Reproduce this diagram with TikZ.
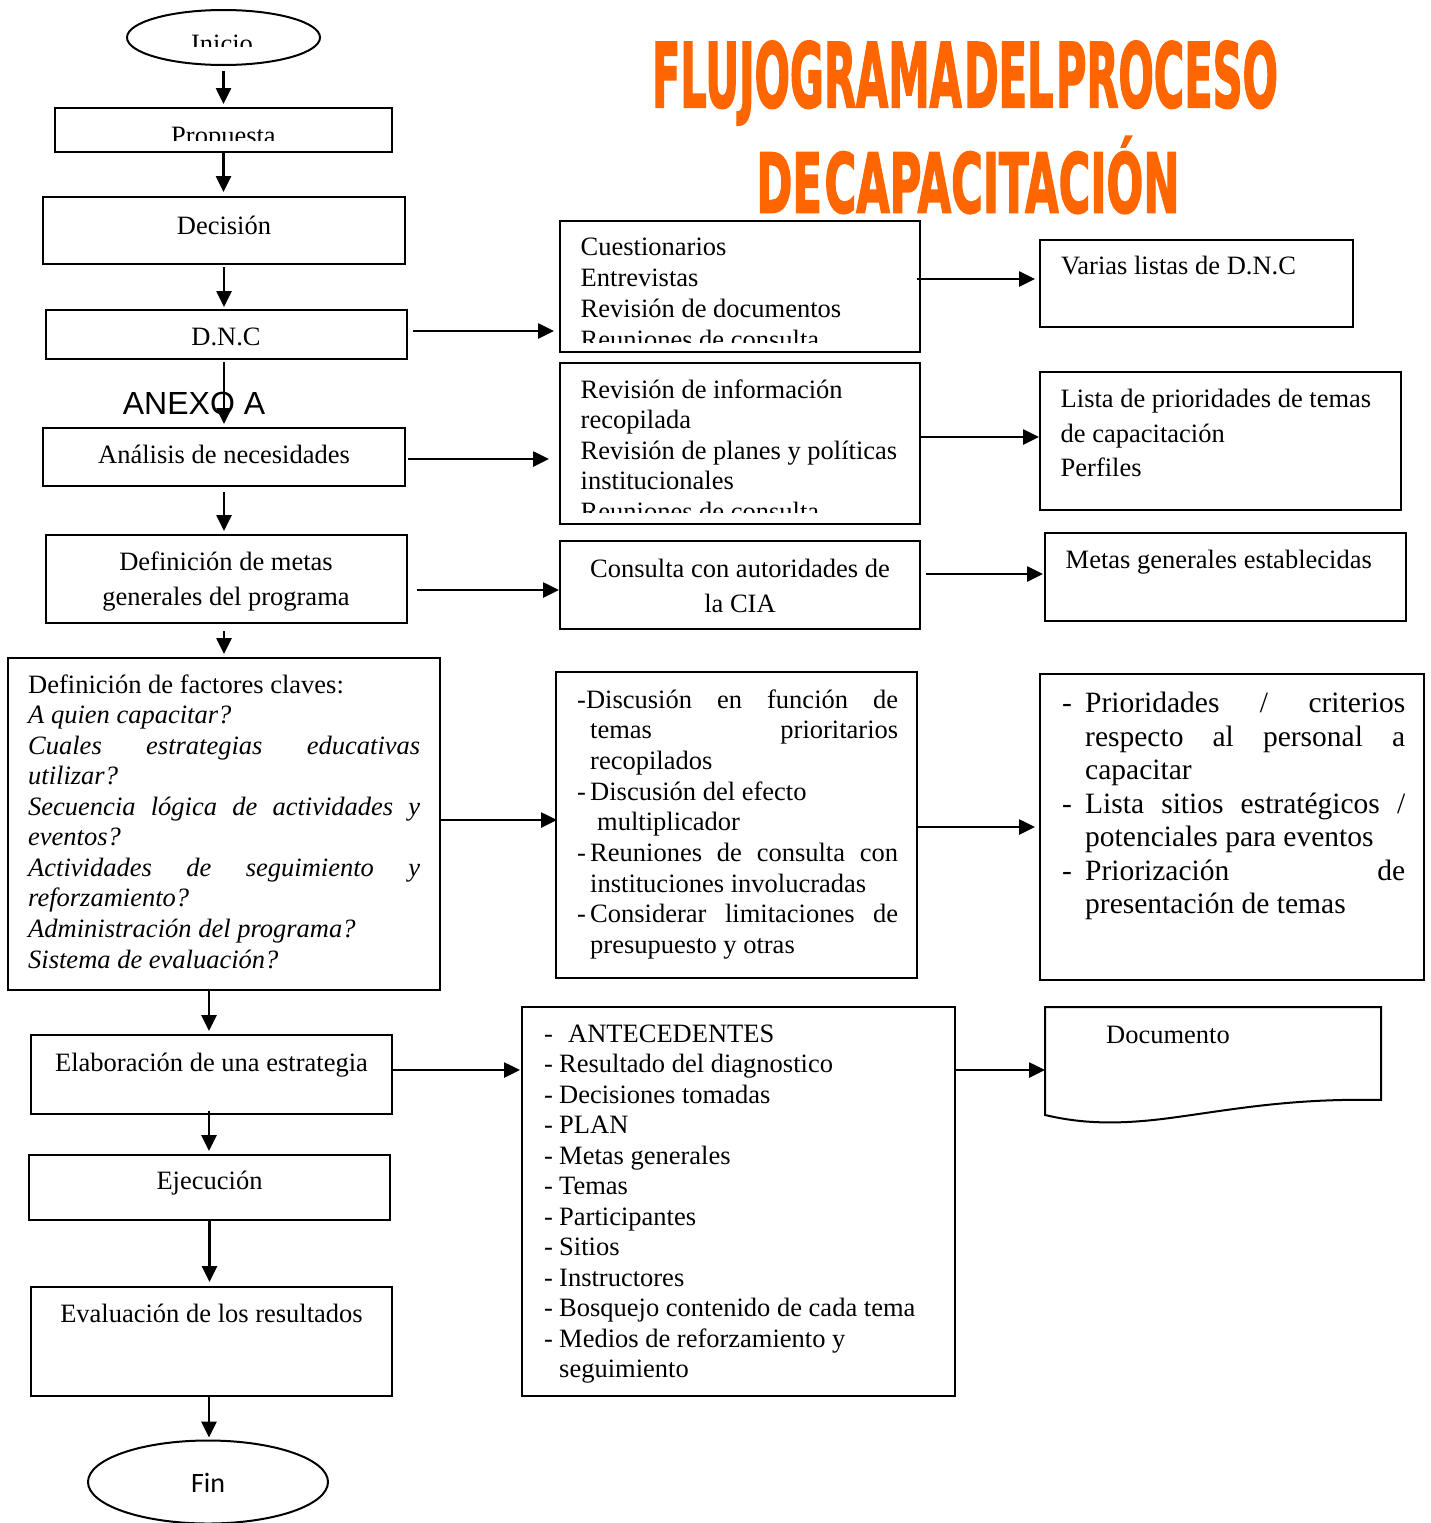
\documentclass[tikz,border=0pt]{standalone}
\usepackage{fontspec}
\usepackage{graphicx}
\setmainfont{Liberation Serif}
\newfontfamily\anexofont{Liberation Sans}
\newfontfamily\finfont{Carlito}
\newfontfamily\ttlfont{DejaVu Sans}[BoldFeatures={FakeBold=2.5}]
\usetikzlibrary{arrows.meta,shapes.geometric,calc}
\newcommand\fsN{\fontsize{26.5}{30.7}\selectfont}
\newcommand\fsP{\fontsize{29.5}{33.5}\selectfont}
\definecolor{wordorange}{RGB}{255,102,0}
\begin{document}
\begin{tikzpicture}[x=1pt,y=-1pt,
  box/.style={draw, line width=2pt, rectangle, inner sep=0pt},
  oval/.style={draw, line width=2pt, ellipse, inner sep=0pt},
  arr/.style={-{Triangle[length=16pt,width=15pt]}, line width=2.6pt},
  tl/.style={inner sep=0pt, font=\fsN, anchor=base west},
  tc/.style={inner sep=0pt, font=\fsN, anchor=base},
  tp/.style={inner sep=0pt, font=\fsP, anchor=base west},
  ttl/.style={inner sep=0pt, font=\ttlfont\bfseries},
  ]
\useasboundingbox (0,0) rectangle (1430,1523);

% ---------- title ----------
\node[ttl, text=wordorange] (t1) at (965,83)
  {\resizebox{626pt}{66pt}{{\spaceskip=0.06em FLUJOGRAMA DEL PROCESO}}};
\node[ttl, text=wordorange] (t2) at (968,175)
  {\resizebox{423pt}{76pt}{{\spaceskip=0.06em DE CAPACITACIÓN}}};

% ---------- left column ----------
\node[oval, minimum width=193pt, minimum height=55pt] (inicio) at (223.5,37.5) {};
\begin{scope}
  \clip (100,0) rectangle (350,46);
  \node[tc] (tinicio) at (222,52) {Inicio};
\end{scope}

\node[box, minimum width=337pt, minimum height=44pt] (prop) at (223.5,130) {};
\begin{scope}
  \clip (50,100) rectangle (400,140);
  \node[tc] (tprop) at (223.5,144.5) {Propuesta};
\end{scope}

\node[box, minimum width=362pt, minimum height=67pt] (dec) at (224,230.5) {};
\node[tc] (tdec) at (224,234) {Decisión};

\node[box, minimum width=361pt, minimum height=49pt] (dnc) at (226.5,334.5) {};
\node[tc] (tdnc) at (226,345) {D.N.C};

\node[box, minimum width=362pt, minimum height=58pt] (anal) at (224,457) {};
\node[tc] (tanal) at (224,463.5) {Análisis de necesidades};

\node[box, minimum width=361pt, minimum height=88pt] (metas) at (226.5,579) {};
\node[tc] (tmetas1) at (226,570) {Definición de metas};
\node[tc] (tmetas2) at (226,605) {generales del programa};

\node[box, minimum width=432pt, minimum height=332pt] (fact) at (224,824) {};
\node[tl] (tf1) at (28,693) {Definición de factores claves:};
\node[tl] (tf2) at (28,723.5) {\itshape A quien capacitar?};
\node[tl] (tf3) at (28,754) {\makebox[392pt][s]{\itshape Cuales estrategias educativas}};
\node[tl] (tf4) at (28,784.5) {\itshape utilizar?};
\node[tl] (tf5) at (28,815) {\makebox[392pt][s]{\itshape Secuencia lógica de actividades y}};
\node[tl] (tf6) at (28,845.5) {\itshape eventos?};
\node[tl] (tf7) at (28,876) {\makebox[392pt][s]{\itshape Actividades de seguimiento y}};
\node[tl] (tf8) at (28,906.5) {\itshape reforzamiento?};
\node[tl] (tf9) at (28,937) {\itshape Administración del programa?};
\node[tl] (tf10) at (28,968) {\itshape Sistema de evaluación?};

\node[box, minimum width=361pt, minimum height=79pt] (elab) at (211.5,1074.5) {};
\node[tc] (telab) at (211.5,1071) {Elaboración de una estrategia};

\node[box, minimum width=361pt, minimum height=65pt] (ejec) at (209.5,1187.5) {};
\node[tc] (tejec) at (209.5,1189) {Ejecución};

\node[box, minimum width=361pt, minimum height=109pt] (eval) at (211.5,1341.5) {};
\node[tc] (teval) at (211.5,1322) {Evaluación de los resultados};

\node[oval, minimum width=240pt, minimum height=83pt] (fin) at (208,1482) {};
\node[inner sep=0pt, anchor=base, font=\finfont\fontsize{28}{32}\selectfont] (tfin) at (208,1492) {Fin};

\node[inner sep=0pt, anchor=base, font=\anexofont\fontsize{32}{36}\selectfont] (anexo) at (194,414) {ANEXO A};

% ---------- middle column ----------
\node[box, minimum width=360pt, minimum height=131pt] (cuest) at (740,286.5) {};
\node[tl] (tc1) at (580.5,255) {Cuestionarios};
\node[tl] (tc2) at (580.5,286) {Entrevistas};
\node[tl] (tc3) at (580.5,317) {Revisión de documentos};
\begin{scope}
  \clip (570,300) rectangle (915,342);
  \node[tl] (tc4) at (580.5,348) {Reuniones de consulta};
\end{scope}

\node[box, minimum width=360pt, minimum height=161pt] (revis) at (740,443.5) {};
\node[tl] (tr1) at (580.5,398) {Revisión de información};
\node[tl] (tr2) at (580.5,428.5) {recopilada};
\node[tl] (tr3) at (580.5,459) {Revisión de planes y políticas};
\node[tl] (tr4) at (580.5,489.5) {institucionales};
\begin{scope}
  \clip (570,495) rectangle (915,512);
  \node[tl] (tr5) at (580.5,520) {Reuniones de consulta};
\end{scope}

\node[box, minimum width=360pt, minimum height=88pt] (consul) at (740,585) {};
\node[tc] (tco1) at (740,577) {Consulta con autoridades de};
\node[tc] (tco2) at (740,612) {la CIA};

\node[box, minimum width=361pt, minimum height=306pt] (discu) at (736.5,825) {};
\node[tl] (td1) at (577,708) {\makebox[321pt][s]{-Discusión en función de}};
\node[tl] (td2) at (590,738.5) {\makebox[308pt][s]{temas prioritarios}};
\node[tl] (td3) at (590,769) {recopilados};
\node[tl] (td4) at (577,800) {\makebox[13pt][l]{-}Discusión del efecto};
\node[tl] (td5) at (597,830.5) {multiplicador};
\node[tl] (td6) at (577,861) {\makebox[13pt][l]{-}\makebox[308pt][s]{Reuniones de consulta con}};
\node[tl] (td7) at (590,892) {instituciones involucradas};
\node[tl] (td8) at (577,922.5) {\makebox[13pt][l]{-}\makebox[308pt][s]{Considerar limitaciones de}};
\node[tl] (td9) at (590,953) {presupuesto y otras};

\node[box, minimum width=433pt, minimum height=389pt] (antec) at (738.5,1201.5) {};
\node[tl] (ta1) at (544,1042) {\makebox[24pt][l]{-}ANTECEDENTES};
\node[tl] (ta2) at (544,1072.5) {\makebox[15pt][l]{-}Resultado del diagnostico};
\node[tl] (ta3) at (544,1103) {\makebox[15pt][l]{-}Decisiones tomadas};
\node[tl] (ta4) at (544,1133.5) {\makebox[15pt][l]{-}PLAN};
\node[tl] (ta5) at (544,1164) {\makebox[15pt][l]{-}Metas generales};
\node[tl] (ta6) at (544,1194.5) {\makebox[15pt][l]{-}Temas};
\node[tl] (ta7) at (544,1225) {\makebox[15pt][l]{-}Participantes};
\node[tl] (ta8) at (544,1255.5) {\makebox[15pt][l]{-}Sitios};
\node[tl] (ta9) at (544,1286) {\makebox[15pt][l]{-}Instructores};
\node[tl] (ta10) at (544,1316.5) {\makebox[15pt][l]{-}Bosquejo contenido de cada tema};
\node[tl] (ta11) at (544,1347) {\makebox[15pt][l]{-}Medios de reforzamiento y};
\node[tl] (ta12) at (559,1377.5) {seguimiento};

% ---------- right column ----------
\node[box, minimum width=313pt, minimum height=87pt] (varias) at (1196.5,283.5) {};
\node[tl] (tv) at (1061,274.5) {Varias listas de D.N.C};

\node[box, minimum width=361pt, minimum height=138pt] (lista) at (1220.5,441) {};
\node[tl] (tli1) at (1060.5,407.5) {Lista de prioridades de temas};
\node[tl] (tli2) at (1060.5,442) {de capacitación};
\node[tl] (tli3) at (1060.5,476.5) {Perfiles};

\node[box, minimum width=361pt, minimum height=88pt] (metasg) at (1225.5,577) {};
\node[tl] (tmg) at (1065.5,568.5) {Metas generales establecidas};

\node[box, minimum width=384pt, minimum height=306pt] (prior) at (1232,827) {};
\node[tp] (tp1) at (1062,712.5) {\makebox[23pt][l]{-}\makebox[320pt][s]{Prioridades / criterios}};
\node[tp] (tp2) at (1085,746) {\makebox[320pt][s]{respecto al personal a}};
\node[tp] (tp3) at (1085,779.5) {capacitar};
\node[tp] (tp4) at (1062,813) {\makebox[23pt][l]{-}\makebox[320pt][s]{Lista sitios estratégicos /}};
\node[tp] (tp5) at (1085,846.5) {potenciales para eventos};
\node[tp] (tp6) at (1062,880) {\makebox[23pt][l]{-}\makebox[320pt][s]{Priorización de}};
\node[tp] (tp7) at (1085,913.5) {presentación de temas};

% document shape
\draw[line width=2pt] (1045,1007) -- (1381,1007) -- (1381,1100)
  .. controls (1290,1098) and (1230,1110) .. (1170,1118)
  .. controls (1110,1126) and (1075,1122) .. (1045,1115) -- cycle;
\coordinate (docw) at (1045,1070);
\node[tl] (tdoc) at (1106,1043) {Documento};

% ---------- vertical connectors ----------
\draw[arr, shorten <=5pt, shorten >=3pt] (inicio.south) -- (inicio.south |- prop.north);
\draw[arr, shorten >=4pt] (prop.south) -- (prop.south |- dec.north);
\draw[arr, shorten <=2pt, shorten >=2pt] (dec.south) -- (dec.south |- dnc.north);
\draw[arr, shorten <=2pt, shorten >=3pt] (anal.north |- dnc.south) -- (anal.north);
\draw[arr, shorten <=5pt, shorten >=3pt] (anal.south) -- (anal.south |- metas.north);
\draw[arr, shorten <=7pt, shorten >=3pt] (anal.south |- metas.south) -- (anal.south |- fact.north);
\draw[arr, shorten >=3pt] ($(fact.south)+(-15,0)$) -- ($(elab.north)+(-2.5,0)$);
\draw[arr, shorten <=-4pt, shorten >=3pt] ($(elab.south)+(-2.5,0)$) -- ($(elab.south |- ejec.north)+(-2.5,0)$);
\draw[arr, shorten >=4pt] (ejec.south) -- (ejec.south |- eval.north);
\draw[arr, shorten >=2pt] ($(eval.south)+(-2.5,0)$) -- ($(eval.south |- fin.north)+(-2.5,0)$);

% ---------- horizontal connectors ----------
\draw[arr] ($(dnc.east)+(5,-3.5)$) -- ($(dnc.east -| cuest.west)+(-5,-3.5)$);
\draw[arr] ($(cuest.east)+(-4,-7.5)$) -- ($(cuest.east -| varias.west)+(-4,-7.5)$);
\draw[arr] ($(anal.east)+(2,2)$) -- ($(anal.east -| revis.west)+(-10,2)$);
\draw[arr] ($(revis.east)+(0,-6.5)$) -- ($(revis.east -| lista.west)+(0,-6.5)$);
\draw[arr] ($(metas.east)+(9,11)$) -- ($(metas.east -| consul.west)+(0,11)$);
\draw[arr] ($(consul.east)+(5,-11)$) -- ($(consul.east -| metasg.west)+(-1,-11)$);
\draw[arr] ($(fact.east)+(0,-4)$) -- ($(fact.east -| discu.west)+(2,-4)$);
\draw[arr] ($(discu.east)+(0,2)$) -- ($(discu.east -| prior.west)+(-4,2)$);
\draw[arr] ($(elab.east)+(0,-4.5)$) -- ($(elab.east -| antec.west)+(-1,-4.5)$);
\draw[arr] (antec.east |- docw) -- (docw);
\end{tikzpicture}
\end{document}
